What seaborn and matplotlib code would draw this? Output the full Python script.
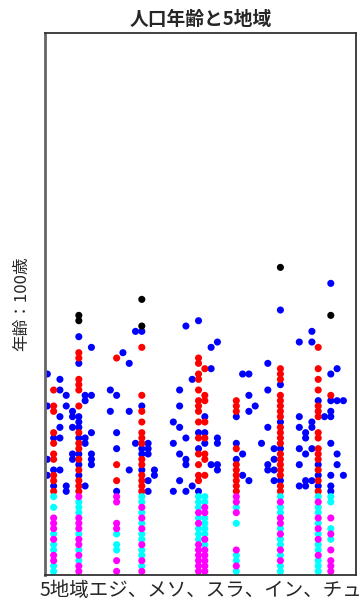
import matplotlib
matplotlib.use("Agg")
import matplotlib.pyplot as plt
import seaborn as sns
import pandas as pd

# ---- data: column position -> ages, per colour group ----
title = "人口年齢と5地域"
xlabel = "5地域エジ、メソ、スラ、イン、チュ"
ylabel = "年齢：100歳"

blue_pts = {0: [37, 31, 21, 18], 1: [25, 19, 16], 2: [36, 34, 29, 27, 25, 19],
            3: [33, 31, 16, 15], 4: [30, 29, 27, 22, 21],
            5: [44, 39, 29, 28, 27, 25, 22, 20, 18], 6: [33, 32, 25, 24, 16],
            7: [42, 33, 26, 22, 21, 20], 10: [34, 30], 11: [33, 26, 23, 15],
            12: [41], 13: [39, 30, 19], 14: [45, 24], 15: [45, 31, 23, 22, 19],
            16: [24, 23, 22, 17, 15], 17: [19, 18], 20: [28, 24, 15],
            21: [34, 31, 27, 22, 17], 22: [46, 25, 21, 20, 15], 23: [36, 16],
            24: [47, 26, 23, 15], 25: [29, 26, 24], 26: [42, 38, 20],
            27: [43, 25, 24, 20, 19], 30: [29, 24, 21], 31: [37, 22, 18],
            32: [37, 33, 30, 17], 33: [31], 34: [24], 35: [39, 34, 27, 20, 19],
            36: [23, 21, 19, 17], 37: [49, 35, 28, 23, 17],
            40: [43, 29, 27, 23, 20, 16], 41: [26, 25, 22, 17, 16],
            42: [45, 43, 28, 27, 23, 17], 43: [32, 20, 18, 16], 44: [29],
            45: [54, 37, 32, 30, 29, 24, 18, 16, 15], 46: [38, 32, 22, 20],
            47: [32, 18]}

red_pts = {1: [34, 31, 30, 26, 24, 22, 21, 18, 17, 15],
           5: [41, 40, 36, 35, 34, 31, 26, 24, 23, 21, 19, 17, 16, 15],
           11: [40, 20, 17],
           15: [42, 33, 30, 28, 26, 25, 24, 21, 20, 18, 17, 16, 15],
           24: [40, 39, 37, 36, 34, 32, 31, 30, 28, 25, 22, 20, 18, 17],
           25: [38, 33, 32, 28, 25, 22, 21, 18],
           30: [32, 31, 30, 23, 20, 19, 18, 17, 16, 15],
           37: [38, 37, 36, 33, 32, 31, 30, 29, 27, 26, 25, 24, 22, 21, 20, 19, 18, 16, 15],
           43: [42, 38, 36, 34, 31, 30, 29, 26, 25, 23, 22, 21, 19, 17, 15],
           45: [33]}

black_pts = {5: [48, 47], 15: [51, 46], 37: [57], 45: [48]}

cyan_pts = {1: [14, 12, 7, 5, 4, 1, 0], 5: [13, 12, 11, 7, 4, 2], 11: [7, 5, 4],
            15: [14, 13, 11, 9, 7, 6, 4, 3, 1], 24: [14, 13, 12, 10, 8, 7, 6],
            25: [14, 13, 10, 9, 8, 7, 5], 30: [12, 9, 3, 2, 0],
            37: [14, 12, 11, 8, 6, 5, 3, 1, 0],
            43: [14, 12, 11, 9, 7, 5, 4, 2, 1, 0], 45: [14, 13, 8, 6]}

magenta_pts = {1: [10, 9, 8, 6, 3, 2], 5: [14, 10, 9, 8, 6, 5, 3, 1, 0],
               11: [14, 13, 9, 8, 2, 0], 15: [12, 10, 8, 5, 2, 0],
               24: [11, 9, 5, 4, 3, 2, 1, 0], 25: [12, 11, 6, 4, 3, 2, 1, 0],
               30: [14, 13, 11, 4, 1], 37: [13, 10, 9, 7, 4, 2],
               43: [13, 10, 8, 6, 3], 45: [10, 7, 4, 2, 1, 0]}

groups = {"blue": blue_pts, "red": red_pts, "black": black_pts,
          "cyan": cyan_pts, "magenta": magenta_pts}
palette = {"blue": "#0000FF", "red": "#FF0000", "black": "#000000",
           "cyan": "#00FFFF", "magenta": "#FF00FF"}

rows = []
for g, d in groups.items():
    for col, ages in d.items():
        for a in ages:
            rows.append({"x": col, "age": a, "group": g})
df = pd.DataFrame(rows)

sns.set_style("white")
plt.rcParams["font.family"] = ["Noto Sans CJK JP", "DejaVu Sans"]

fig = plt.figure(figsize=(3.63, 6.01), dpi=100)
ax = fig.add_axes([45 / 363, (601 - 574.5) / 601, (356 - 45) / 363, (574.5 - 33.3) / 601])

sns.scatterplot(data=df, x="x", y="age", hue="group", palette=palette,
                hue_order=list(groups.keys()), s=26, linewidth=0,
                legend=False, ax=ax)

ax.set_xlim(-0.37, 49.0)
ax.set_ylim(-0.6, 100.9)
ax.set_xticks([])
ax.set_yticks([])
for sp in ax.spines.values():
    sp.set_color("#333333")
    sp.set_linewidth(1.3)
ax.spines["left"].set_color("#666666")
ax.spines["left"].set_linewidth(2)

ax.set_title(title, fontsize=13.5, fontweight="bold", pad=6)
ax.set_xlabel(xlabel, fontsize=14, labelpad=4)
ax.set_ylabel(ylabel, fontsize=12, labelpad=11)

fig.savefig("out.png", dpi=100)
